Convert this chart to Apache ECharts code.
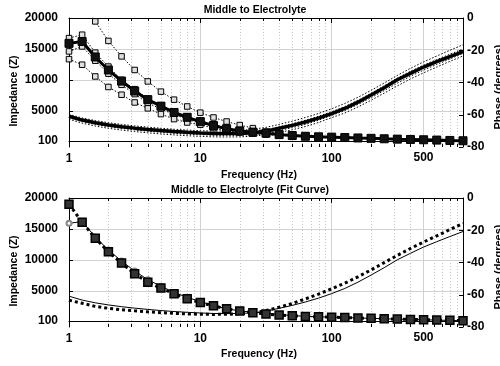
<!DOCTYPE html>
<html><head><meta charset="utf-8">
<script src="https://cdn.jsdelivr.net/npm/echarts@6/dist/echarts.min.js"></script>
<style>html,body{margin:0;padding:0;background:#fff}#c{width:500px;height:366px}</style>
</head><body><div id="c"></div>
<script>
// ---------- data ----------
const freq = [1, 1.259, 1.585, 1.995, 2.512, 3.162, 3.981, 5.012, 6.31, 7.943, 10, 12.59, 15.85, 19.95, 25.12, 31.62, 39.81, 50.12, 63.1, 79.43, 100, 125.9, 158.5, 199.5, 251.2, 316.2, 398.1, 501.2, 631, 794.3, 1000];

const impMean   = [15900, 16200, 13700, 11600, 9800, 8200, 6800, 5750, 4730, 3950, 3250, 2600, 2100, 1750, 1550, 1390, 1150, 1000, 880, 800, 740, 680, 610, 550, 480, 420, 370, 320, 270, 210, 160];
const impTrialA = [26500, 22800, 19450, 16300, 13800, 11600, 9750, 8100, 6800, 5700, 4700, 3920, 3270, 2700, 2200, 1650, 1300, 1100, 950, 860, 790, 720, 650, 580, 510, 450, 390, 340, 290, 230, 180];
const impTrialB = [16750, 17300, 14400, 12150, 10000, 8500, 6950, 5900, 4900, 4100, 3400, 2800, 2300, 1900, 1620, 1430, 1180, 1030, 900, 820, 760, 700, 630, 570, 500, 440, 380, 330, 280, 220, 170];
const impTrialC = [14600, 15400, 13100, 11000, 9200, 7700, 6250, 5300, 4400, 3650, 3000, 2450, 2000, 1700, 1480, 1330, 1100, 970, 860, 780, 720, 660, 600, 540, 470, 410, 360, 310, 260, 200, 150];
const impTrialD = [13350, 12450, 10550, 8850, 7600, 6350, 5400, 4470, 3660, 3110, 2740, 2200, 1770, 1500, 1300, 1150, 1020, 930, 850, 780, 720, 660, 600, 540, 470, 410, 360, 310, 260, 200, 150];

const phaseMean = [-60.9, -63.3, -65.0, -66.3, -67.4, -68.3, -69.1, -69.8, -70.4, -70.9, -71.3, -71.6, -71.7, -71.6, -71.2, -70.2, -68.4, -66.6, -64.5, -62.1, -59.3, -56.1, -52.2, -47.8, -43.2, -38.3, -34.3, -30.4, -27.1, -23.9, -20.8];
const phaseT1   = [-59.8, -62.0, -63.6, -64.9, -66.0, -66.9, -67.7, -68.4, -69.0, -69.5, -69.9, -70.1, -70.0, -69.7, -69.0, -67.8, -66.0, -64.0, -61.7, -59.2, -56.3, -53.0, -49.2, -44.9, -40.3, -35.6, -31.2, -27.2, -23.6, -20.0, -16.6];
const phaseT2   = [-60.5, -62.8, -64.5, -65.8, -66.9, -67.8, -68.6, -69.3, -69.9, -70.4, -70.8, -71.1, -71.1, -70.9, -70.4, -69.3, -67.5, -65.6, -63.4, -60.9, -58.1, -54.9, -51.0, -46.7, -42.0, -37.3, -33.0, -29.2, -25.8, -22.5, -19.3];
const phaseT3   = [-61.8, -64.2, -66.0, -67.4, -68.5, -69.4, -70.2, -70.9, -71.5, -72.0, -72.4, -72.7, -72.8, -72.7, -72.3, -71.4, -69.8, -68.0, -66.0, -63.4, -60.4, -57.4, -53.6, -49.4, -45.0, -40.4, -36.1, -32.3, -28.8, -25.4, -22.0];
const phaseT4   = [-62.8, -65.2, -67.0, -68.4, -69.5, -70.4, -71.2, -71.9, -72.5, -73.0, -73.4, -73.7, -73.8, -73.7, -73.3, -72.5, -71.0, -69.3, -67.3, -64.8, -61.8, -58.9, -55.2, -51.0, -46.6, -42.1, -37.8, -34.0, -30.4, -26.9, -23.5];

const fitImp    = [19000, 16100, 13500, 11300, 9480, 7740, 6380, 5440, 4520, 3700, 3110, 2570, 2090, 1750, 1450, 1250, 1080, 960, 860, 790, 730, 670, 610, 550, 490, 430, 380, 330, 280, 230, 180];
const fitPhase  = [-63.4, -65.3, -67.2, -68.4, -69.3, -70.0, -70.6, -71.1, -71.5, -71.9, -72.1, -72.2, -72.1, -71.8, -71.2, -69.8, -67.8, -65.4, -62.6, -59.6, -56.3, -52.8, -48.9, -44.6, -40.1, -35.6, -31.3, -27.3, -23.5, -19.6, -15.8];

const xTickLabels = [1, 10, 100, 500];
const leftTicks = [100, 5000, 10000, 15000, 20000];
const titles = ['Middle to Electrolyte', 'Middle to Electrolyte (Fit Curve)'];

// ---------- chart ----------
const FONT = '"Liberation Sans", Arial, Helvetica, sans-serif';
const Y_MIN = -850, Y_MAX = 20000;
const chart = echarts.init(document.getElementById('c'), null, {renderer: 'canvas'});

const pairs = ys => freq.map((f, i) => [f, ys[i]]);

const minorX = [];
[1, 10, 100].forEach(d => { for (let m = 2; m <= 9; m++) minorX.push(m * d); });
const majorX = xTickLabels.filter(v => v !== 1);

function decor() {
  const d = [];
  const gridSolid = {color: '#d2d2d2', type: 'solid', width: 1};
  minorX.filter(v => majorX.indexOf(v) < 0).forEach(v => d.push({xAxis: v, lineStyle: {color: '#c6c6c6', type: [1, 2], width: 1}}));
  majorX.forEach(v => {
    const it = {xAxis: v, lineStyle: gridSolid};
    if (v === 500) {
      it.label = {show: true, position: 'start', formatter: String(v), distance: 5, color: '#000', fontSize: 12, fontWeight: 'bold', fontFamily: FONT};
    }
    d.push(it);
  });
  leftTicks.filter(v => v < Y_MAX).forEach(v => d.push({yAxis: v, lineStyle: gridSolid}));
  const tickPos = minorX.concat([10, 100]);
  tickPos.forEach(v => {
    const L = majorX.indexOf(v) >= 0 ? 800 : 480;
    d.push([{coord: [v, Y_MIN]}, {coord: [v, Y_MIN + L]}]);
    d.push([{coord: [v, Y_MAX]}, {coord: [v, Y_MAX - L]}]);
  });
  return d;
}

const grids = [{left: 69, top: 18, width: 394, height: 129}, {left: 69, top: 198, width: 394, height: 129}];
const xAxes = [], yAxes = [];
const labelStyle = {color: '#000', fontSize: 12, fontWeight: 'bold', fontFamily: FONT};
grids.forEach((g, gi) => {
  xAxes.push({type: 'log', logBase: 10, gridIndex: gi, min: 1, max: 1000, position: 'bottom',
    axisLine: {show: true, lineStyle: {color: '#000', width: 1}}, axisTick: {show: false},
    splitLine: {show: false}, minorTick: {show: false},
    axisLabel: Object.assign({margin: 6, formatter: v => (xTickLabels.indexOf(v) >= 0 ? String(v) : '')}, labelStyle)});
  xAxes.push({type: 'log', logBase: 10, gridIndex: gi, min: 1, max: 1000, position: 'top',
    axisLine: {show: true, lineStyle: {color: '#000', width: 1}}, axisTick: {show: false},
    splitLine: {show: false}, axisLabel: {show: false}});
  yAxes.push({type: 'value', gridIndex: gi, min: Y_MIN, max: Y_MAX, position: 'left',
    axisLine: {show: true, lineStyle: {color: '#000', width: 1}},
    axisTick: {show: true, inside: true, length: 4, customValues: leftTicks, lineStyle: {color: '#000'}},
    splitLine: {show: false},
    axisLabel: Object.assign({margin: 11, customValues: leftTicks, formatter: v => String(Math.round(v))}, labelStyle)});
  yAxes.push({type: 'value', gridIndex: gi, min: -80, max: 0, interval: 20, position: 'right',
    axisLine: {show: true, lineStyle: {color: '#000', width: 1}},
    axisTick: {show: true, inside: true, length: 4, lineStyle: {color: '#000'}},
    splitLine: {show: false},
    axisLabel: Object.assign({margin: 4, formatter: v => String(Math.round(v))}, labelStyle)});
});

const series = [];
grids.forEach((g, gi) => {
  series.push({type: 'line', xAxisIndex: gi * 2, yAxisIndex: gi * 2, data: [], silent: true, z: 0,
    markLine: {silent: true, animation: false, symbol: ['none', 'none'], z: 0,
      label: {show: false}, lineStyle: {color: '#000', type: 'solid', width: 1}, data: decor()}});
});

const dotted = {color: '#000', width: 1, type: [1.5, 1.8]};
// top panel: phase trials
[phaseT1, phaseT2, phaseT3, phaseT4].forEach(p => series.push({type: 'line', xAxisIndex: 0, yAxisIndex: 1, data: pairs(p),
  showSymbol: false, lineStyle: dotted, z: 2, silent: true}));
// top panel: impedance trials
[impTrialA, impTrialB, impTrialC, impTrialD].forEach(p => series.push({type: 'line', xAxisIndex: 0, yAxisIndex: 0, data: pairs(p),
  symbol: 'rect', symbolSize: 5.5, showAllSymbol: true, itemStyle: {color: '#e0e0e0', borderColor: '#000', borderWidth: 1},
  lineStyle: dotted, z: 3, silent: true}));
// top panel: means
series.push({type: 'line', xAxisIndex: 0, yAxisIndex: 1, data: pairs(phaseMean), showSymbol: false,
  lineStyle: {color: '#000', width: 3.5}, z: 4, silent: true});
series.push({type: 'line', xAxisIndex: 0, yAxisIndex: 0, data: pairs(impMean), symbol: 'rect', symbolSize: 8, showAllSymbol: true,
  itemStyle: {color: '#111', borderColor: '#000', borderWidth: 1}, lineStyle: {color: '#000', width: 3}, z: 5, silent: true});

// bottom panel: measured (thin) and fit (thick dotted)
series.push({type: 'line', xAxisIndex: 2, yAxisIndex: 3, data: pairs(phaseMean), showSymbol: false,
  lineStyle: {color: '#000', width: 1}, z: 3, silent: true});
series.push({type: 'line', xAxisIndex: 2, yAxisIndex: 3, data: pairs(fitPhase), showSymbol: false,
  lineStyle: {color: '#000', width: 3, type: [3, 3]}, z: 4, silent: true});
series.push({type: 'line', xAxisIndex: 2, yAxisIndex: 2, data: pairs(impMean), symbol: 'emptyCircle', symbolSize: 5, showAllSymbol: true,
  itemStyle: {color: '#888', borderColor: '#555', borderWidth: 1}, lineStyle: {color: '#000', width: 1}, z: 3, silent: true});
series.push({type: 'line', xAxisIndex: 2, yAxisIndex: 2, data: pairs(fitImp), symbol: 'rect', symbolSize: 8, showAllSymbol: true,
  itemStyle: {color: '#333', borderColor: '#000', borderWidth: 1.5}, lineStyle: {color: '#000', width: 3, type: [3, 3]}, z: 5, silent: true});

const txt = (s, x, y, size, rot) => ({type: 'text', x: x, y: y, rotation: rot || 0, silent: true, z: 10,
  style: {text: s, align: 'center', verticalAlign: 'middle', fontSize: size, fontWeight: 'bold', fontFamily: FONT, fill: '#000'}});

const graphic = [
  txt(titles[0], 255, 10, 10.5),
  txt(titles[1], 250, 190, 10.5),
  txt('Frequency (Hz)', 259, 175, 10.5),
  txt('Frequency (Hz)', 259, 354, 10.5),
  txt('Impedance (Z)', 14, 91, 10.5, Math.PI / 2),
  txt('Impedance (Z)', 14, 271, 10.5, Math.PI / 2),
  txt('Phase (degrees)', 499, 87, 11, Math.PI / 2),
  txt('Phase (degrees)', 499, 267, 11, Math.PI / 2)
];

chart.setOption({
  animation: false,
  backgroundColor: '#fff',
  grid: grids,
  xAxis: xAxes,
  yAxis: yAxes,
  series: series,
  graphic: graphic
});
</script>
</body></html>
